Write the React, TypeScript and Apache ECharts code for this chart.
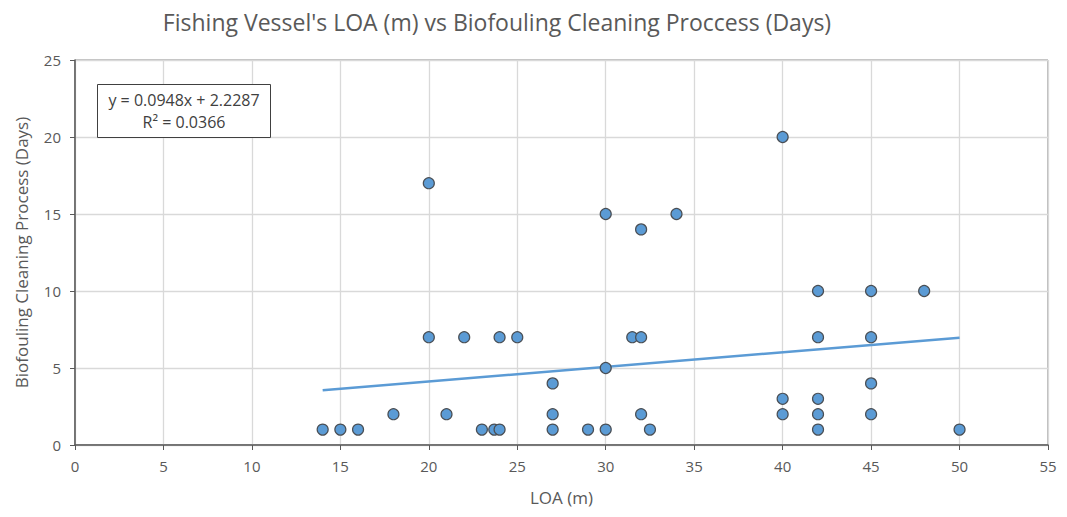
import React, { useEffect, useRef } from "react";
import * as echarts from "echarts";

const loaValues = [
  14, 15, 16, 23, 23.7, 24, 27, 29, 30, 32.5, 42, 50,
  18, 21, 27, 32, 40, 42, 45,
  40, 42,
  27, 45,
  30,
  20, 22, 24, 25, 31.5, 32, 42, 45,
  42, 45, 48,
  32,
  30, 34,
  20,
  40,
];
const dayValues = [
  1, 1, 1, 1, 1, 1, 1, 1, 1, 1, 1, 1,
  2, 2, 2, 2, 2, 2, 2,
  3, 3,
  4, 4,
  5,
  7, 7, 7, 7, 7, 7, 7, 7,
  10, 10, 10,
  14,
  15, 15,
  17,
  20,
];
const slope = 0.0948;
const intercept = 2.2287;
const rSquared = 0.0366;
const titleText = "Fishing Vessel's LOA (m) vs Biofouling Cleaning Proccess (Days)";
const xAxisName = "LOA (m)";
const yAxisName = "Biofouling Cleaning Process (Days)";

export default function App() {
  const ref = useRef<HTMLDivElement>(null);
  useEffect(() => {
    if (!ref.current) return;
    const chart = echarts.init(ref.current, undefined, { renderer: "svg" });
    const points = loaValues.map((x, i) => [x, dayValues[i]]);
    const xMin = Math.min(...loaValues);
    const xMax = Math.max(...loaValues);
    const trend = [
      [xMin, slope * xMin + intercept],
      [xMax, slope * xMax + intercept],
    ];
    const font = "Open Sans, Noto Sans, sans-serif";
    chart.setOption({
      animation: false,
      backgroundColor: "#ffffff",
      title: {
        text: titleText,
        left: 492,
        top: 5,
        textAlign: "center",
        textStyle: { color: "#595959", fontSize: 23, fontWeight: "normal", fontFamily: font },
      },
      grid: { left: 75, right: 19, top: 60, bottom: 72, show: true, borderColor: "#7f7f7f", borderWidth: 1 },
      xAxis: {
        type: "value",
        min: 0,
        max: 55,
        interval: 5,
        name: xAxisName,
        nameLocation: "middle",
        nameGap: 44,
        nameTextStyle: { color: "#595959", fontSize: 17, fontFamily: font },
        axisLine: { lineStyle: { color: "#595959", width: 1.5 } },
        axisTick: { show: true, length: 5, lineStyle: { color: "#595959" } },
        axisLabel: { color: "#595959", fontSize: 15, fontFamily: font, margin: 13 },
        splitLine: { show: true, lineStyle: { color: "#d9d9d9", width: 1.3 } },
      },
      yAxis: {
        type: "value",
        min: 0,
        max: 25,
        interval: 5,
        name: yAxisName,
        nameLocation: "middle",
        nameGap: 45,
        nameTextStyle: { color: "#595959", fontSize: 17, fontFamily: font },
        axisLine: { show: true, lineStyle: { color: "#595959", width: 1.5 } },
        axisTick: { show: true, length: 5, lineStyle: { color: "#595959" } },
        axisLabel: { color: "#595959", fontSize: 15, fontFamily: font, margin: 14 },
        splitLine: { show: true, lineStyle: { color: "#d9d9d9", width: 1.3 } },
      },
      series: [
        {
          type: "line",
          data: trend,
          symbol: "none",
          lineStyle: { color: "#5B9BD5", width: 2.5 },
          z: 1,
        },
        {
          type: "scatter",
          data: points,
          symbol: "circle",
          symbolSize: 11,
          itemStyle: { color: "#5B9BD5", borderColor: "#4a4f55", borderWidth: 1.2, opacity: 1 },
          z: 3,
        },
      ],
      graphic: [
        {
          type: "rect",
          left: 97,
          top: 84,
          shape: { width: 173, height: 53 },
          style: { fill: "#ffffff", stroke: "#404040", lineWidth: 1 },
          z: 10,
        },
        {
          type: "text",
          x: 184,
          y: 111,
          style: {
            text: `y = ${slope}x + ${intercept}\nR² = ${rSquared}`,
            fill: "#404040",
            font: `16px ${font}`,
            align: "center",
            verticalAlign: "middle",
            lineHeight: 22,
          },
          z: 11,
        },
      ],
    });
    return () => chart.dispose();
  }, []);
  return (
    <div
      ref={ref}
      style={{ position: "absolute", left: 0, top: 0, width: 1067, height: 517 }}
    />
  );
}
